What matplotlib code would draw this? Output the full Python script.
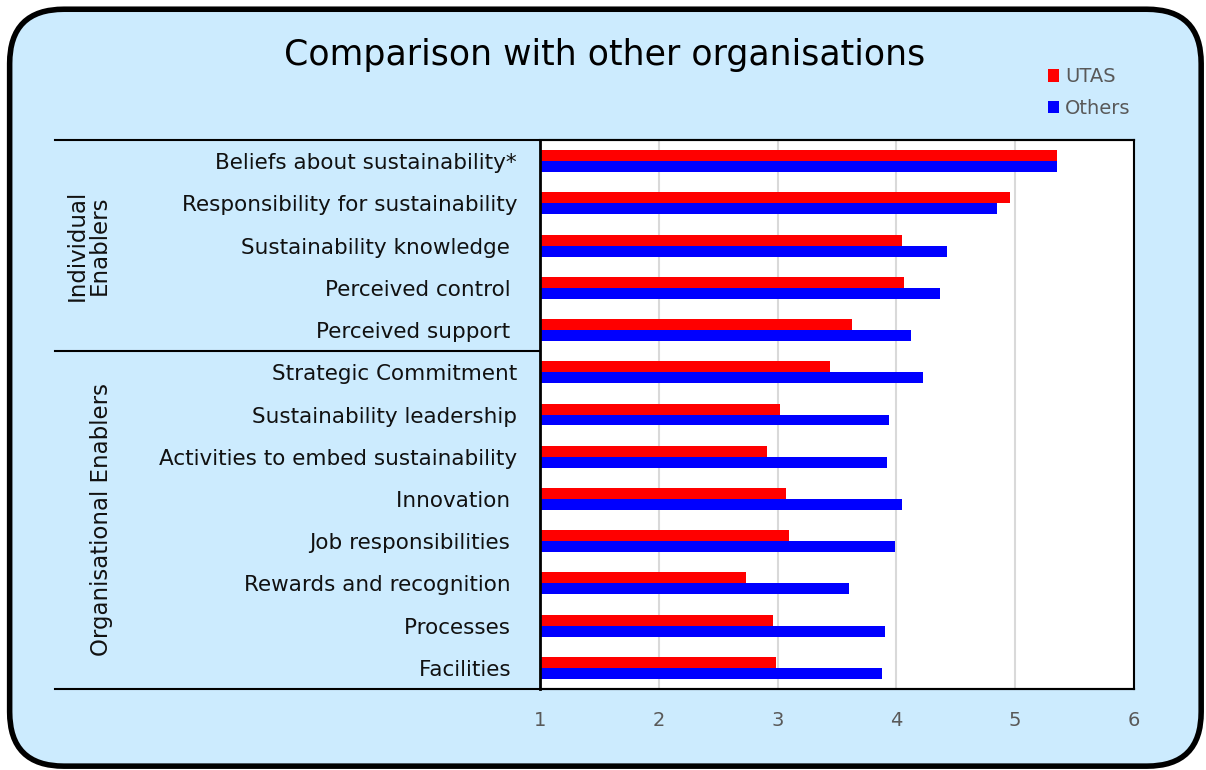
import matplotlib.pyplot as plt
import numpy as np
from matplotlib.patches import FancyBboxPatch
from matplotlib.lines import Line2D

categories = ["Beliefs about sustainability*", "Responsibility for sustainability",
              "Sustainability knowledge ", "Perceived control ", "Perceived support ",
              "Strategic Commitment", "Sustainability leadership",
              "Activities to embed sustainability", "Innovation ", "Job responsibilities ",
              "Rewards and recognition ", "Processes ", "Facilities "]
utas = [5.35, 4.96, 4.05, 4.06, 3.63, 3.44, 3.02, 2.91, 3.07, 3.10, 2.73, 2.96, 2.99]
others = [5.35, 4.85, 4.43, 4.37, 4.12, 4.22, 3.94, 3.92, 4.05, 3.99, 3.60, 3.90, 3.88]
groups = ["Individual\nEnablers", "Organisational Enablers"]
xticks = [1, 2, 3, 4, 5, 6]

plt.rcParams['font.family'] = ['DejaVu Sans']
bg = '#CCEBFE'
fig = plt.figure(figsize=(12.06, 7.7), dpi=100)
fig.patch.set_facecolor('white')
box = FancyBboxPatch((0.008, 0.005), 0.988, 0.983, boxstyle="round,pad=0,rounding_size=0.045",
                     transform=fig.transFigure, facecolor=bg, edgecolor='black', linewidth=4,
                     mutation_aspect=1206/770, zorder=-5)
fig.patches.append(box)

ax = fig.add_axes([540/1206, 1-689/770, 594/1206, 549/770])
ax.set_facecolor('white')
y = np.arange(len(categories))
h = 0.26
ax.barh(y - h/2, np.array(utas) - 1, height=h, left=1, color='#FF0000', label='UTAS')
ax.barh(y + h/2, np.array(others) - 1, height=h, left=1, color='#0000FF', label='Others')
ax.set_xlim(1, 6)
ax.set_ylim(len(categories) - 0.5, -0.5)
ax.set_xticks(xticks)
ax.set_xticklabels([str(t) for t in xticks], color='#595959', fontsize=14)
ax.set_yticks(y)
ax.set_yticklabels(categories, fontsize=15.5, color='#111111')
ax.tick_params(axis='both', length=0)
ax.tick_params(axis='y', pad=16.5)
ax.tick_params(axis='x', pad=15.5)
ax.grid(axis='x', color='#D9D9D9', linewidth=1.5)
ax.set_axisbelow(True)
for s in ax.spines.values():
    s.set_color('black')
    s.set_linewidth(1.5)
ax.spines['left'].set_linewidth(2)

x0 = (55 - 540) / 594
for yy in (-0.5, len(categories) - 0.5, 4.5):
    x1 = 0 if yy == 4.5 else 1
    ax.add_line(Line2D([x0, x1], [yy, yy], transform=ax.get_yaxis_transform(),
                       color='black', linewidth=1.5, clip_on=False))

fig.text(88/1206, 1-245/770, groups[0], rotation=90, ha='center', va='center',
         fontsize=16.5, color='#111111', linespacing=0.95)
fig.text(102/1206, 1-520/770, groups[1], rotation=90, ha='center', va='center',
         fontsize=16.5, color='#111111')

fig.text(605/1206, 1-55/770, "Comparison with other organisations", ha='center', va='center',
         fontsize=25, color='black')

ax.legend(loc='upper left', bbox_to_anchor=(1030/1206, 1-50/770), bbox_transform=fig.transFigure,
          frameon=False, fontsize=14, labelcolor='#595959', handlelength=0.6, handleheight=0.6,
          handletextpad=0.3, labelspacing=0.65)

fig.savefig('out.png', dpi=100)
